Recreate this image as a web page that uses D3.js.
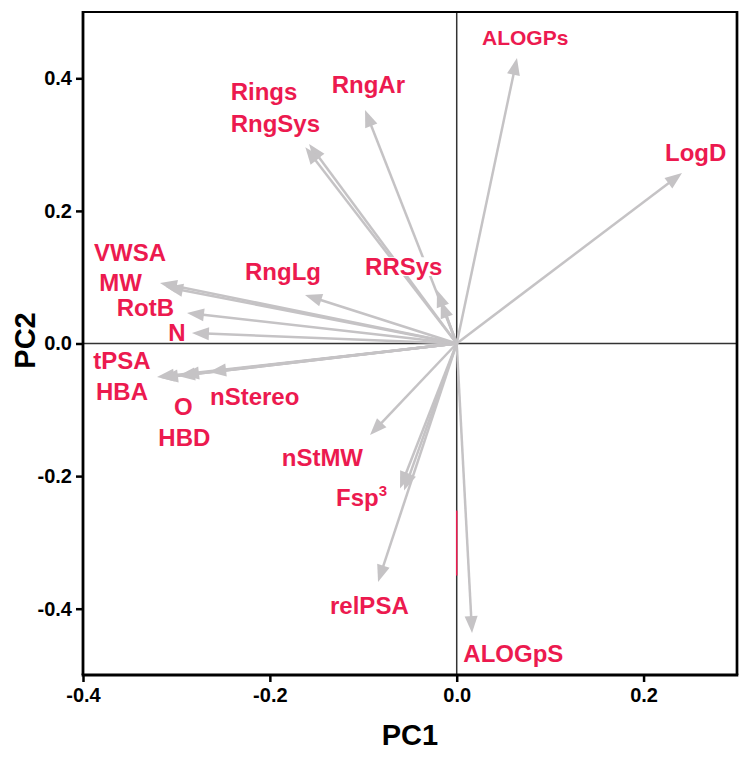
<!DOCTYPE html>
<html>
<head>
<meta charset="utf-8">
<script src="https://cdn.jsdelivr.net/npm/d3@7"></script>
<style>
  html, body { margin: 0; padding: 0; background: #fff; }
  svg { display: block; }
  text { font-family: "Liberation Sans", Arial, Helvetica, sans-serif; font-weight: bold; }
</style>
</head>
<body>
<svg id="chart" width="751" height="758"></svg>
<script>
// ---- data: loading vectors (PC1, PC2) ----
const variables = ["ALOGPs", "LogD", "RngAr", "Rings", "RngSys", "RRSys", "RRSys2", "RngLg",
  "VWSA", "MW", "RotB", "N", "tPSA", "HBA", "O", "HBD", "nStereo",
  "nStMW", "Fsp3", "Fsp3b", "relPSA", "ALOGpS"];
const pc1 = [0.0645, 0.2411, -0.0981, -0.158, -0.162, -0.0211, -0.017, -0.1624,
  -0.3176, -0.3111, -0.2887, -0.2834, -0.3208, -0.3165, -0.2983, -0.294, -0.265,
  -0.0928, -0.0607, -0.0564, -0.0842, 0.0164];
const pc2 = [0.4306, 0.2572, 0.3522, 0.301, 0.296, 0.0807, 0.064, 0.0732,
  0.0913, 0.0852, 0.046, 0.0158, -0.0505, -0.052, -0.049, -0.0475, -0.043,
  -0.138, -0.2187, -0.2217, -0.3597, -0.4367];

// ---- label texts and their anchor (start, baseline) in data units ----
const labelText = ["ALOGPs", "LogD", "RngAr", "Rings", "RngSys", "RRSys", "RngLg",
  "VWSA", "MW", "RotB", "N", "tPSA", "HBA", "O", "HBD", "nStereo",
  "nStMW", "Fsp", "relPSA", "ALOGpS"];
const labelX = [0.0271, 0.223, -0.1338, -0.2419, -0.2419, -0.0981, -0.2266,
  -0.3882, -0.3825, -0.3639, -0.3087, -0.3889, -0.3861, -0.3026, -0.3194, -0.2641,
  -0.1873, -0.1292, -0.1356, 0.0071];
const labelY = [0.450, 0.2753, 0.3778, 0.3673, 0.3195, 0.1033, 0.0958,
  0.1249, 0.0796, 0.0415, 0.0042, -0.0389, -0.0852, -0.1078, -0.1546, -0.0928,
  -0.1848, -0.2451, -0.4080, -0.48];

// ---- axes ----
const xDomain = [-0.4, 0.3];
const yDomain = [-0.5, 0.5];
const xTicks = [-0.4, -0.2, 0.0, 0.2];
const yTicks = [-0.4, -0.2, 0.0, 0.2, 0.4];
const xTitle = "PC1", yTitle = "PC2";

const svg = d3.select("#chart");
const L = 83, R = 737, T = 12, B = 675;
const x = d3.scaleLinear().domain(xDomain).range([L, R]);
const y = d3.scaleLinear().domain(yDomain).range([B, T]);

const ARROW = "#c5c3c5", LABEL = "#ec1a4f";

// zero lines
svg.append("line").attr("x1", L).attr("x2", R).attr("y1", y(0)).attr("y2", y(0))
  .attr("stroke", "#333").attr("stroke-width", 1.5);
svg.append("line").attr("x1", x(0)).attr("x2", x(0)).attr("y1", T).attr("y2", B)
  .attr("stroke", "#333").attr("stroke-width", 1.5);
svg.append("line").attr("x1", x(0)).attr("x2", x(0)).attr("y1", y(-0.252)).attr("y2", y(-0.35))
  .attr("stroke", LABEL).attr("stroke-width", 1.5);

const vecs = variables.map((v, i) => ({ name: v, px: pc1[i], py: pc2[i] }));
const HL = 17, HW = 6.5;
function geom(d) {
  const ox = x(0), oy = y(0), tx = x(d.px), ty = y(d.py);
  const dx = tx - ox, dy = ty - oy, len = Math.hypot(dx, dy);
  const ux = dx / len, uy = dy / len;
  const bx = tx - HL * ux, by = ty - HL * uy;
  return { ox, oy, tx, ty, bx, by, ux, uy };
}

// shafts
svg.append("g").selectAll("line").data(vecs).join("line")
  .attr("x1", d => geom(d).ox).attr("y1", d => geom(d).oy)
  .attr("x2", d => geom(d).bx + geom(d).ux * 3).attr("y2", d => geom(d).by + geom(d).uy * 3)
  .attr("stroke", ARROW).attr("stroke-width", 2.5);

// labels (with white background)
const labels = labelText.map((t, i) => ({ t, lx: labelX[i], ly: labelY[i] }));
const lgBg = svg.append("g");
const heads = svg.append("g");
const lgTx = svg.append("g");
labels.forEach(d => {
  const fs = d.t === "ALOGPs" ? 21 : 24;
  const tx = lgTx.append("text").attr("x", x(d.lx)).attr("y", y(d.ly))
    .attr("font-size", fs).attr("fill", LABEL).text(d.t);
  if (d.t === "Fsp") {
    tx.append("tspan").attr("font-size", 15).attr("dy", -10).text("3");
  }
  const bb = tx.node().getBBox();
  lgBg.append("rect").attr("x", bb.x - 1).attr("y", y(d.ly) - fs * 0.74)
    .attr("width", bb.width + 2).attr("height", fs * 0.74 + 1)
    .attr("fill", "#fff");
});

// arrow heads
heads.selectAll("path").data(vecs).join("path")
  .attr("d", d => {
    const g = geom(d);
    const p1 = [g.bx - HW * g.uy, g.by + HW * g.ux];
    const p2 = [g.bx + HW * g.uy, g.by - HW * g.ux];
    return `M${g.tx},${g.ty}L${p1[0]},${p1[1]}L${p2[0]},${p2[1]}Z`;
  })
  .attr("fill", ARROW);

// frame
svg.append("line").attr("x1", L).attr("x2", R).attr("y1", T).attr("y2", T)
  .attr("stroke", "#000").attr("stroke-width", 2);
svg.append("line").attr("x1", R).attr("x2", R).attr("y1", T - 1).attr("y2", B)
  .attr("stroke", "#000").attr("stroke-width", 2.7);

const xAxis = svg.append("g").attr("transform", `translate(0,${B})`)
  .call(d3.axisBottom(x).tickValues(xTicks).tickSize(7).tickPadding(6)
    .tickFormat(d3.format(".1f")));
const yAxis = svg.append("g").attr("transform", `translate(${L},0)`)
  .call(d3.axisLeft(y).tickValues(yTicks).tickSize(7).tickPadding(4)
    .tickFormat(d3.format(".1f")));
[xAxis, yAxis].forEach(a => {
  a.select(".domain").attr("stroke", "#000").attr("stroke-width", 2.8);
  a.selectAll(".tick line").attr("stroke", "#000").attr("stroke-width", 2.5);
  a.selectAll(".tick text").attr("fill", "#000").attr("font-size", 20)
    .attr("font-family", "'Liberation Sans', Arial, sans-serif").attr("font-weight", "bold");
});
xAxis.selectAll(".tick text").text(d => d3.format(".1f")(d).replace("−", "-"));
yAxis.selectAll(".tick text").text(d => d3.format(".1f")(d).replace("−", "-"));
xAxis.select(".domain").attr("d", `M${L - 1.4},0H${R + 1.3}`);
yAxis.select(".domain").attr("d", `M0,${T - 1}V${B}`);

// titles
svg.append("text").attr("x", (L + R) / 2).attr("y", 745).attr("text-anchor", "middle")
  .attr("font-size", 29).attr("fill", "#000").text(xTitle);
svg.append("text").attr("transform", `translate(35,${(T + B) / 2 - 3}) rotate(-90)`)
  .attr("text-anchor", "middle").attr("font-size", 29).attr("fill", "#000").text(yTitle);
</script>
</body>
</html>
